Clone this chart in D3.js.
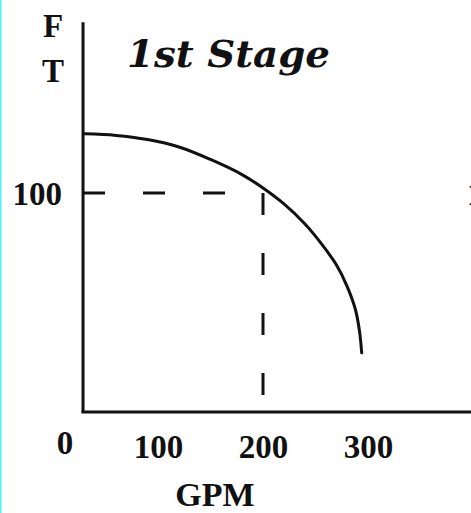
<!DOCTYPE html>
<html>
<head>
<meta charset="utf-8">
<script src="https://cdn.jsdelivr.net/npm/d3@7"></script>
<style>
  html, body { margin: 0; padding: 0; background: #fff; }
  svg { display: block; }
  text { font-family: "Liberation Serif", "Times New Roman", serif; font-weight: bold; fill: #111; }
</style>
</head>
<body>
<div id="chart"></div>
<script>
// Pump curve, 1st stage: head (ft) against flow (GPM)
const gpm  = [30, 60, 90, 120, 150, 180, 200, 220, 240, 255, 270, 280, 288, 292, 294];
const head = [127, 126.3, 124.4, 121, 115.3, 108.4, 102.3, 95, 85.8, 77.2, 67.1, 57.5, 46.8, 36.6, 27];

// Duty point marked by the dashed guide lines
const dutyGpm = 200;
const dutyHead = 100;

const xTickValues = [100, 200, 300];
const yTickValues = [100];
const originLabel = "0";
const titleText = "1st Stage";
const xTitleText = "GPM";
const yTitleLines = ["F", "T"];

const W = 471, H = 513;

const x = d3.scaleLinear().domain([0, 400]).range([53, 473]);
const y = d3.scaleLinear().domain([0, 100]).range([412, 193]);

const axisStartGpm = 28.6;   // the vertical axis sits here
const axisTopHead = 178;     // top end of the vertical axis
const x0 = x(axisStartGpm);

const svg = d3.select("#chart").append("svg")
  .attr("width", W).attr("height", H)
  .attr("viewBox", `0 0 ${W} ${H}`);

svg.append("rect").attr("width", W).attr("height", H).attr("fill", "#fff");
// thin cyan frame edge
svg.append("rect").attr("x", 0).attr("y", 0).attr("width", 1.5).attr("height", H).attr("fill", "#4df5f5");

// Axis lines
svg.append("line")
  .attr("x1", x0).attr("x2", x0)
  .attr("y1", y(axisTopHead)).attr("y2", y(0) + 1)
  .attr("stroke", "#111").attr("stroke-width", 3);
svg.append("line")
  .attr("x1", x0 - 1.5).attr("x2", x(400))
  .attr("y1", y(0)).attr("y2", y(0))
  .attr("stroke", "#111").attr("stroke-width", 3);

// Tick labels via d3 axes
const gx = svg.append("g")
  .attr("transform", `translate(0,${y(0)})`)
  .call(d3.axisBottom(x).tickValues(xTickValues).tickSize(0).tickPadding(23).tickFormat(d3.format("d")));
gx.select(".domain").remove();
gx.selectAll("text")
  .attr("fill", "#111")
  .style("font-size", "33px")
  .style("font-family", "'Liberation Serif', 'Times New Roman', serif")
  .style("font-weight", "bold");

const gy = svg.append("g")
  .attr("transform", `translate(${x0},0)`)
  .call(d3.axisLeft(y).tickValues(yTickValues).tickSize(0).tickPadding(21).tickFormat(d3.format("d")));
gy.select(".domain").remove();
gy.selectAll("text")
  .attr("fill", "#111")
  .attr("dy", "0.36em")
  .style("font-size", "33px")
  .style("font-family", "'Liberation Serif', 'Times New Roman', serif")
  .style("font-weight", "bold");

// Origin label at the corner
svg.append("text")
  .attr("x", x0 - 18).attr("y", y(0) + 42)
  .attr("text-anchor", "middle")
  .style("font-size", "33px")
  .text(originLabel);

// Dashed guide to the duty point
svg.append("path")
  .attr("d", d3.line()([
    [x0, y(dutyHead)],
    [x(dutyGpm), y(dutyHead)],
    [x(dutyGpm), y(0)]
  ]))
  .attr("fill", "none")
  .attr("stroke", "#111")
  .attr("stroke-width", 3)
  .attr("stroke-dasharray", "22,38");

// Head-capacity curve
const pts = gpm.map((g, i) => ({ gpm: g, head: head[i] }));
svg.append("path")
  .datum(pts)
  .attr("d", d3.line().x(d => x(d.gpm)).y(d => y(d.head)).curve(d3.curveCatmullRom.alpha(0.5)))
  .attr("fill", "none")
  .attr("stroke", "#111")
  .attr("stroke-width", 3)
  .attr("stroke-linecap", "round");

// Titles
svg.append("text")
  .attr("x", 127).attr("y", 67)
  .attr("textLength", 203)
  .attr("lengthAdjust", "spacingAndGlyphs")
  .style("font-family", "'DejaVu Serif', serif")
  .style("font-size", "37px")
  .style("font-style", "italic")
  .text(titleText);

svg.append("text")
  .attr("x", 215).attr("y", 506)
  .attr("text-anchor", "middle")
  .style("font-size", "34px")
  .text(xTitleText);

svg.selectAll("text.ytitle")
  .data(yTitleLines)
  .join("text")
  .attr("class", "ytitle")
  .attr("x", 53)
  .attr("y", (d, i) => 37 + i * 45)
  .attr("text-anchor", "middle")
  .style("font-size", "33px")
  .text(d => d);

// Edge of the neighbouring panel's scale label
svg.append("text")
  .attr("x", 467).attr("y", 205)
  .style("font-size", "33px")
  .text("100");
</script>
</body>
</html>
